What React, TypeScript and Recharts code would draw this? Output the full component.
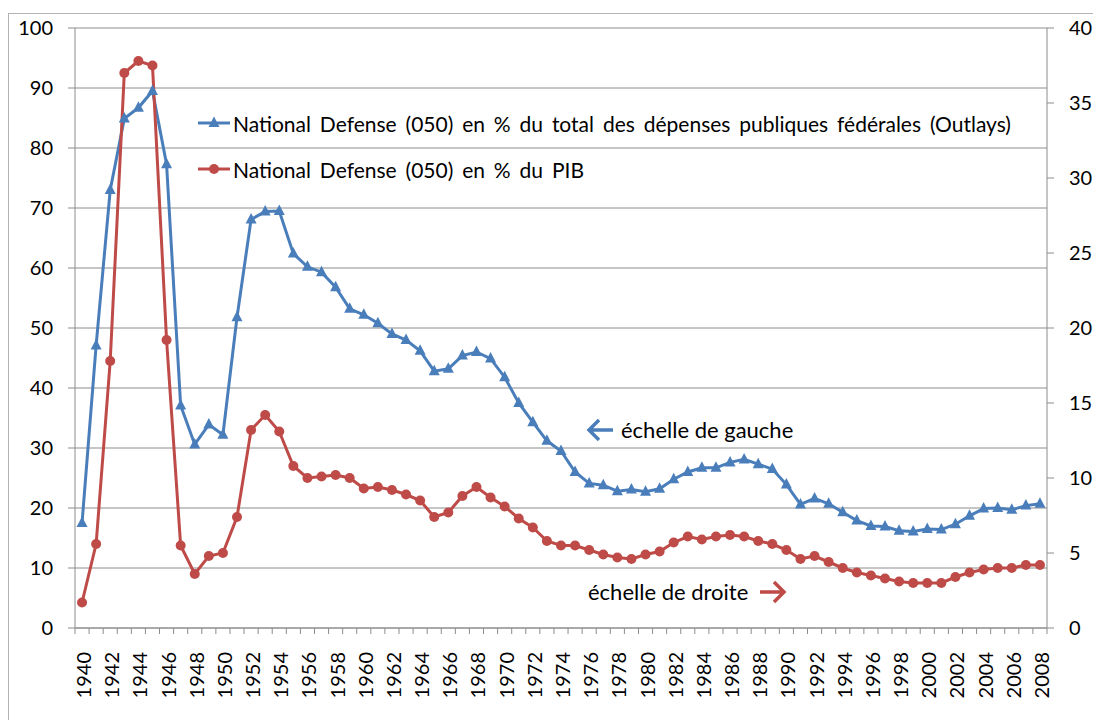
import { CartesianGrid, Legend, Line, LineChart, XAxis, YAxis } from "recharts";

const years = [
  1940, 1941, 1942, 1943, 1944, 1945, 1946, 1947, 1948, 1949,
  1950, 1951, 1952, 1953, 1954, 1955, 1956, 1957, 1958, 1959,
  1960, 1961, 1962, 1963, 1964, 1965, 1966, 1967, 1968, 1969,
  1970, 1971, 1972, 1973, 1974, 1975, 1976, 1977, 1978, 1979,
  1980, 1981, 1982, 1983, 1984, 1985, 1986, 1987, 1988, 1989,
  1990, 1991, 1992, 1993, 1994, 1995, 1996, 1997, 1998, 1999,
  2000, 2001, 2002, 2003, 2004, 2005, 2006, 2007, 2008,
];

// % of total federal outlays (left axis)
const shareOfOutlays = [
  17.5, 47.1, 73.0, 84.9, 86.7, 89.5, 77.3, 37.1, 30.6, 33.9,
  32.2, 51.8, 68.1, 69.4, 69.5, 62.4, 60.2, 59.3, 56.8, 53.2,
  52.2, 50.8, 49.0, 48.0, 46.2, 42.8, 43.2, 45.4, 46.0, 44.9,
  41.8, 37.5, 34.3, 31.2, 29.5, 26.0, 24.1, 23.8, 22.8, 23.1,
  22.7, 23.2, 24.8, 26.0, 26.7, 26.7, 27.6, 28.1, 27.3, 26.5,
  23.9, 20.6, 21.6, 20.7, 19.3, 17.9, 17.0, 16.9, 16.2, 16.1,
  16.5, 16.4, 17.3, 18.7, 19.9, 20.0, 19.7, 20.4, 20.7,
];

// % of GDP (right axis)
const shareOfGdp = [
  1.7, 5.6, 17.8, 37.0, 37.8, 37.5, 19.2, 5.5, 3.6, 4.8,
  5.0, 7.4, 13.2, 14.2, 13.1, 10.8, 10.0, 10.1, 10.2, 10.0,
  9.3, 9.4, 9.2, 8.9, 8.5, 7.4, 7.7, 8.8, 9.4, 8.7,
  8.1, 7.3, 6.7, 5.8, 5.5, 5.5, 5.2, 4.9, 4.7, 4.6,
  4.9, 5.1, 5.7, 6.1, 5.9, 6.1, 6.2, 6.1, 5.8, 5.6,
  5.2, 4.6, 4.8, 4.4, 4.0, 3.7, 3.5, 3.3, 3.1, 3.0,
  3.0, 3.0, 3.4, 3.7, 3.9, 4.0, 4.0, 4.2, 4.2,
];

const leftTicks = [0, 10, 20, 30, 40, 50, 60, 70, 80, 90, 100];
const rightTicks = [0, 5, 10, 15, 20, 25, 30, 35, 40];

const BLUE = "#4A7EBB";
const RED = "#BE4B48";
const GRID = "#8C8C8C";
const FONT = "Lato, 'Open Sans', sans-serif";

const PLOT_LEFT = 75;
const PLOT_RIGHT = 1047;
const step = (PLOT_RIGHT - PLOT_LEFT) / years.length;

const data = years.map((year, i) => ({
  year,
  outlays: shareOfOutlays[i],
  gdp: shareOfGdp[i],
}));

function TriangleDot(props: any) {
  const { cx, cy } = props;
  if (cx == null || cy == null) return null;
  return <path d={`M${cx},${cy - 6.5} L${cx + 5.5},${cy + 4} L${cx - 5.5},${cy + 4} Z`} fill={BLUE} />;
}

function CircleDot(props: any) {
  const { cx, cy } = props;
  if (cx == null || cy == null) return null;
  return <circle cx={cx} cy={cy} r={5} fill={RED} />;
}

function YearTick(props: any) {
  const { x, y, payload, index } = props;
  const isLast = index === years.length - 1;
  return (
    <g>
      <line x1={x - step / 2} x2={x - step / 2} y1={y} y2={y + 6} stroke={GRID} />
      {isLast && <line x1={x + step / 2} x2={x + step / 2} y1={y} y2={y + 6} stroke={GRID} />}
      {payload.value % 2 === 0 && (
        <text
          transform={`translate(${x + 1},${y + 24}) rotate(-90)`}
          textAnchor="end"
          dominantBaseline="central"
          fontSize={20}
          fontFamily={FONT}
          fill="#000"
        >
          {payload.value}
        </text>
      )}
    </g>
  );
}

function LegendIcon({ color, shape }: { color: string; shape: string }) {
  return (
    <svg width={34} height={46} style={{ display: "block" }}>
      <line x1={0} x2={32} y1={23} y2={23} stroke={color} strokeWidth={3} />
      {shape === "triangle" ? (
        <path d="M16,16.5 L21.5,27 L10.5,27 Z" fill={color} />
      ) : (
        <circle cx={16} cy={23} r={5} fill={color} />
      )}
    </svg>
  );
}

function renderLegend() {
  const items = [
    { label: "National Defense (050) en % du total des dépenses publiques fédérales (Outlays)", color: BLUE, shape: "triangle" },
    { label: "National Defense (050) en % du PIB", color: RED, shape: "circle" },
  ];
  return (
    <div style={{ fontFamily: FONT, fontSize: 21, color: "#000" }}>
      {items.map((it) => (
        <div key={it.label} style={{ display: "flex", alignItems: "center", height: 46, whiteSpace: "nowrap" }}>
          <LegendIcon color={it.color} shape={it.shape} />
          <span style={{ marginLeft: 1, wordSpacing: 3.5 }}>{it.label}</span>
        </div>
      ))}
    </div>
  );
}

function Arrow({ dir, color }: { dir: "left" | "right"; color: string }) {
  const d = dir === "left" ? "M14,3 L4,13 L14,23 M4,13 L28,13" : "M16,3 L26,13 L16,23 M26,13 L2,13";
  return (
    <svg width={30} height={26} style={{ display: "block" }}>
      <path d={d} fill="none" stroke={color} strokeWidth={3.5} />
    </svg>
  );
}

export default function App() {
  return (
    <div style={{ position: "absolute", left: 0, top: 0, width: 1093, height: 720, overflow: "hidden", background: "#fff" }}>
      <div style={{ position: "absolute", left: 8, top: 13, width: 1200, height: 800, border: "1px solid #B4B4B4" }} />
      <LineChart width={1093} height={720} data={data} margin={{ top: 28, right: 0, bottom: 0, left: 0 }}>
        <CartesianGrid yAxisId="left" vertical={false} stroke={GRID} strokeWidth={1} />
        <XAxis
          dataKey="year"
          interval={0}
          height={92}
          padding={{ left: step / 2, right: step / 2 }}
          tickLine={false}
          tickSize={0}
          tickMargin={0}
          axisLine={{ stroke: GRID }}
          tick={<YearTick />}
        />
        <YAxis
          yAxisId="left"
          width={75}
          domain={[0, 100]}
          ticks={leftTicks}
          interval={0}
          tickSize={7}
          tickMargin={15}
          tickLine={{ stroke: GRID }}
          axisLine={{ stroke: GRID }}
          tick={{ fontSize: 20, fontFamily: FONT, fill: "#000" }}
        />
        <YAxis
          yAxisId="right"
          orientation="right"
          width={46}
          domain={[0, 40]}
          ticks={rightTicks}
          interval={0}
          tickSize={7}
          tickMargin={15}
          tickLine={{ stroke: GRID }}
          axisLine={{ stroke: GRID }}
          tick={{ fontSize: 20, fontFamily: FONT, fill: "#000", textAnchor: "start" }}
        />
        <Legend
          layout="vertical"
          align="center"
          verticalAlign="middle"
          content={renderLegend}
          wrapperStyle={{ left: 198, top: 100, width: "auto", height: "auto" }}
        />
        <Line
          yAxisId="left"
          type="linear"
          dataKey="outlays"
          name="outlays"
          stroke={BLUE}
          strokeWidth={3}
          dot={<TriangleDot />}
          activeDot={false}
          isAnimationActive={false}
        />
        <Line
          yAxisId="right"
          type="linear"
          dataKey="gdp"
          name="gdp"
          stroke={RED}
          strokeWidth={3}
          dot={<CircleDot />}
          activeDot={false}
          isAnimationActive={false}
        />
      </LineChart>
      <div style={{ position: "absolute", left: 585, top: 416, display: "flex", alignItems: "center", fontFamily: FONT, fontSize: 22 }}>
        <Arrow dir="left" color={BLUE} />
        <span style={{ marginLeft: 6 }}>échelle de gauche</span>
      </div>
      <div style={{ position: "absolute", left: 588, top: 578, display: "flex", alignItems: "center", fontFamily: FONT, fontSize: 22 }}>
        <span style={{ marginRight: 10 }}>échelle de droite</span>
        <Arrow dir="right" color={RED} />
      </div>
    </div>
  );
}
